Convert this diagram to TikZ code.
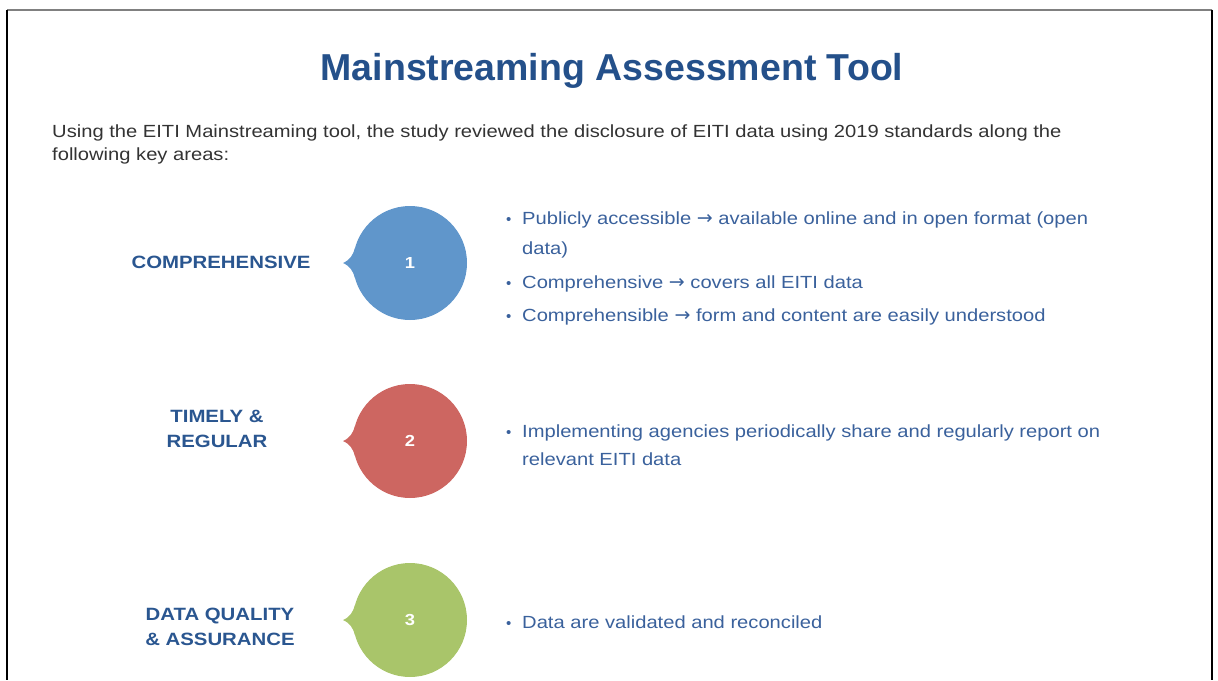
\documentclass[tikz,border=0pt]{standalone}
\usepackage{fontspec}
\setmainfont{Liberation Sans}
\newfontfamily\widesans[FakeStretch=1.145]{Liberation Sans}
\newfontfamily\arrowfont{DejaVu Sans}
\newcommand{\rarr}{{\arrowfont\fontsize{19}{19}\selectfont →}}
\begin{document}
\definecolor{titleblue}{HTML}{24508A}
\definecolor{labelblue}{HTML}{2A5690}
\definecolor{itemblue}{HTML}{3A619C}
\definecolor{introgray}{HTML}{333333}
\definecolor{bubbleblue}{HTML}{6096CB}
\definecolor{bubblered}{HTML}{CD6661}
\definecolor{bubblegreen}{HTML}{A9C56A}
\begin{tikzpicture}[x=1pt,y=-1pt,
  title/.style={font=\fontsize{37.5}{40}\selectfont\bfseries, text=titleblue, inner sep=0pt},
  intro/.style={font=\widesans\fontsize{17.6}{22.5}\selectfont, text=introgray, inner sep=0pt, anchor=base west},
  area/.style={font=\widesans\fontsize{17.8}{24.5}\selectfont\bfseries, text=labelblue, align=center, inner sep=0pt},
  item/.style={font=\widesans\fontsize{17.6}{29}\selectfont, text=itemblue, inner sep=0pt, anchor=base west},
  dot/.style={font=\fontsize{15}{29}\selectfont, text=itemblue, inner sep=0pt, anchor=base west},
  num/.style={font=\widesans\fontsize{16}{18}\selectfont\bfseries, text=white, inner sep=0pt}]
\useasboundingbox (0,0) rectangle (1218,680);

% page frame
\draw[line width=1.2pt, gray] (7,10) -- (1212,10);
\draw[line width=2.5pt, black] (7,9.5) -- (7,680);
\draw[line width=2pt, black] (1212,9.5) -- (1212,680);

% heading and introduction
\node[title, anchor=base] (head) at (612,80) {Mainstreaming Assessment Tool};
\node[intro] (intro1) at (52,137.5) {Using the EITI Mainstreaming tool, the study reviewed the disclosure of EITI data using 2019 standards along the};
\node[intro] (intro2) at (52,160) {following key areas:};

% speech-bubble markers: circle with a small pointer on the left
\newcommand{\bubble}[4]{%
  \fill[#3] (#1,#2) circle[radius=57];
  \fill[#3] (#1-67,#2) .. controls (#1-60,#2-3) and (#1-57,#2-8) .. (#1-55,#2-15)
     -- (#1-50,#2) -- (#1-55,#2+15) .. controls (#1-57,#2+8) and (#1-60,#2+3) .. (#1-67,#2) -- cycle;
  \node[num] (n#4) at (#1,#2) {#4};
}
\bubble{410}{263}{bubbleblue}{1}
\bubble{410}{441}{bubblered}{2}
\bubble{410}{620}{bubblegreen}{3}

% area names
\node[area] (a1) at (221,262) {COMPREHENSIVE};
\node[area] (a2) at (217,429) {TIMELY \&\\REGULAR};
\node[area] (a3) at (220,627) {DATA QUALITY\\\& ASSURANCE};

% criteria
\node[dot] (d1) at (506,224.5) {•};
\node[item] (t1a) at (522,224.5) {Publicly accessible \rarr{} available online and in open format (open};
\node[item] (t1b) at (522,254.5) {data)};
\node[dot] (d2) at (506,288) {•};
\node[item] (t2) at (522,288) {Comprehensive \rarr{} covers all EITI data};
\node[dot] (d3) at (506,321.5) {•};
\node[item] (t3) at (522,321.5) {Comprehensible \rarr{} form and content are easily understood};

\node[dot] (d4) at (506,437) {•};
\node[item] (t4a) at (522,437) {Implementing agencies periodically share and regularly report on};
\node[item] (t4b) at (522,465.5) {relevant EITI data};

\node[dot] (d5) at (506,628) {•};
\node[item] (t5) at (522,628) {Data are validated and reconciled};
\end{tikzpicture}
\end{document}
